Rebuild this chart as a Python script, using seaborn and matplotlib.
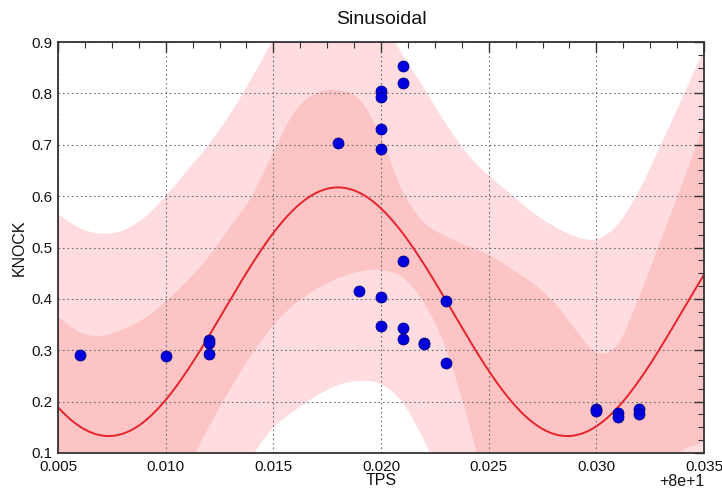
import numpy as np
import pandas as pd
import matplotlib
matplotlib.use("Agg")
import matplotlib.pyplot as plt
from matplotlib.path import Path
from matplotlib.patches import PathPatch
from matplotlib.ticker import AutoMinorLocator, FuncFormatter
import seaborn as sns

# ---------------- data ----------------
tps = [80.006, 80.010, 80.012, 80.012, 80.012, 80.018, 80.019,
       80.020, 80.020, 80.020, 80.020, 80.020, 80.020,
       80.021, 80.021, 80.021, 80.021, 80.021,
       80.022, 80.022, 80.023, 80.023,
       80.030, 80.030, 80.031, 80.031, 80.032, 80.032]
knock = [0.291, 0.289, 0.320, 0.315, 0.292, 0.704, 0.416,
         0.805, 0.793, 0.730, 0.691, 0.403, 0.348,
         0.853, 0.821, 0.473, 0.344, 0.322,
         0.315, 0.312, 0.395, 0.275,
         0.186, 0.182, 0.177, 0.171, 0.185, 0.175]

# sinusoidal fit parameters
fit_offset = 0.375
fit_amplitude = 0.242
fit_period = 0.0213
fit_peak = 80.018

# band edges, read at TPS = 80.005 ... 80.035 (step 0.001)
band_x = [80.005, 80.006, 80.007, 80.008, 80.009, 80.010, 80.011, 80.012,
          80.013, 80.014, 80.015, 80.016, 80.017, 80.018, 80.019, 80.020,
          80.021, 80.022, 80.023, 80.024, 80.025, 80.026, 80.027, 80.028,
          80.029, 80.030, 80.031, 80.032, 80.033, 80.034, 80.035]
outer_upper = [0.565, 0.538, 0.527, 0.533, 0.558, 0.600, 0.650, 0.700,
               0.760, 0.830, 0.905, 0.970, 1.010, 1.030, 1.010, 0.950,
               0.875, 0.810, 0.742, 0.683, 0.640, 0.605, 0.570, 0.542,
               0.522, 0.516, 0.545, 0.612, 0.700, 0.792, 0.885]
outer_lower = [-0.35, -0.38, -0.38, -0.35, -0.30, -0.22, -0.12, -0.05,
               0.030, 0.094, 0.149, 0.183, 0.211, 0.232, 0.240, 0.234,
               0.198, 0.124, 0.030, -0.06, -0.12, -0.16, -0.19, -0.21,
               -0.21, -0.19, -0.16, -0.12, -0.08, -0.04, 0.00]
inner_upper = [0.365, 0.335, 0.328, 0.340, 0.362, 0.395, 0.435, 0.482,
               0.540, 0.600, 0.685, 0.765, 0.800, 0.806, 0.788, 0.715,
               0.610, 0.548, 0.522, 0.503, 0.486, 0.460, 0.432, 0.395,
               0.342, 0.296, 0.312, 0.405, 0.515, 0.625, 0.740]
inner_lower = [-0.15, -0.17, -0.16, -0.12, -0.06, 0.010, 0.072, 0.150,
               0.225, 0.292, 0.349, 0.390, 0.419, 0.440, 0.453, 0.456,
               0.442, 0.392, 0.305, 0.170, 0.020, -0.03, -0.06, -0.07,
               -0.06, -0.04, -0.01, 0.035, 0.080, 0.105, 0.122]

x_ticks = [80.005, 80.010, 80.015, 80.020, 80.025, 80.030, 80.035]
y_ticks = [0.1, 0.2, 0.3, 0.4, 0.5, 0.6, 0.7, 0.8, 0.9]


def smooth_edge(xs, ys):
    """Bezier (Catmull-Rom) path segments passing through the read points."""
    p = np.column_stack([xs, ys]).astype(float)
    ext = np.vstack([p[0], p, p[-1]])
    verts, codes = [], []
    for i in range(len(p) - 1):
        p0, p1, p2, p3 = ext[i], ext[i + 1], ext[i + 2], ext[i + 3]
        c1 = p1 + (p2 - p0) / 6.0
        c2 = p2 - (p3 - p1) / 6.0
        verts += [c1, c2, p2]
        codes += [Path.CURVE4] * 3
    return p[0], verts, codes


def band_patch(ax, xs, lower, upper, color, z):
    start, v_up, c_up = smooth_edge(xs, upper)
    start_lo, v_lo, c_lo = smooth_edge(xs[::-1], lower[::-1])
    verts = [start] + v_up + [start_lo] + v_lo + [start]
    codes = [Path.MOVETO] + c_up + [Path.LINETO] + c_lo + [Path.CLOSEPOLY]
    patch = PathPatch(Path(verts, codes), facecolor=color, edgecolor='none',
                      lw=0, zorder=z, transform=ax.transData)
    ax.add_patch(patch)


# ---------------- plot ----------------
sns.set_theme(style="white")
plt.rcParams['font.family'] = ['Liberation Sans', 'DejaVu Sans']

fig = plt.figure(figsize=(7.22, 4.92), dpi=100)
ax = fig.add_axes([58 / 722, 39 / 492, 646 / 722, 411 / 492])

band_patch(ax, band_x, outer_lower, outer_upper, '#fedcdf', 1)
band_patch(ax, band_x, inner_lower, inner_upper, '#fcc4c5', 2)

curve_x = np.linspace(80.005, 80.035, 400)
curve_y = fit_offset + fit_amplitude * np.cos(2 * np.pi * (curve_x - fit_peak) / fit_period)
fit_df = pd.DataFrame({'TPS': curve_x, 'KNOCK': curve_y})
sns.lineplot(data=fit_df, x='TPS', y='KNOCK', color='#e8232b', lw=1.4, ax=ax, zorder=4)

pts = pd.DataFrame({'TPS': tps, 'KNOCK': knock})
sns.scatterplot(data=pts, x='TPS', y='KNOCK', color='#0000dd', s=62,
                edgecolor='#00008a', linewidth=0.6, ax=ax, zorder=5)

ax.set_xlim(80.005, 80.035)
ax.set_ylim(0.1, 0.9)
ax.set_xticks(x_ticks)
ax.set_yticks(y_ticks)
ax.xaxis.set_minor_locator(AutoMinorLocator(4))
ax.yaxis.set_minor_locator(AutoMinorLocator(4))
ax.xaxis.set_major_formatter(FuncFormatter(lambda v, p: f"{v - 80:.3f}"))
ax.yaxis.set_major_formatter(FuncFormatter(lambda v, p: f"{v:.1f}"))

ax.grid(True, which='major', linestyle=(0, (1.5, 2.5)), color='#6f6f6f', lw=0.8, zorder=3)
ax.set_axisbelow(False)
for sp in ax.spines.values():
    sp.set_color('#333333')
    sp.set_linewidth(1.3)
    sp.set_zorder(6)

ax.tick_params(which='both', direction='in', top=True, right=True,
               colors='#333333', labelcolor='#111111', labelsize=11)
ax.tick_params(which='major', length=7, width=1.0)
ax.tick_params(axis='x', which='major', pad=5)
ax.tick_params(axis='y', which='major', pad=4)
ax.tick_params(which='minor', length=4, width=0.8)

ax.set_xlabel('TPS', fontsize=11.5, labelpad=-1, color='#111111')
ax.set_ylabel('KNOCK', fontsize=11.5, labelpad=3, color='#111111')
ax.set_title('Sinusoidal', fontsize=14, pad=13, color='#111111')
ax.text(1.0, -29 / 411, '+8e+1', transform=ax.transAxes, ha='right', va='center',
        fontsize=11.5, color='#111111')

fig.savefig('out.png', dpi=100)
